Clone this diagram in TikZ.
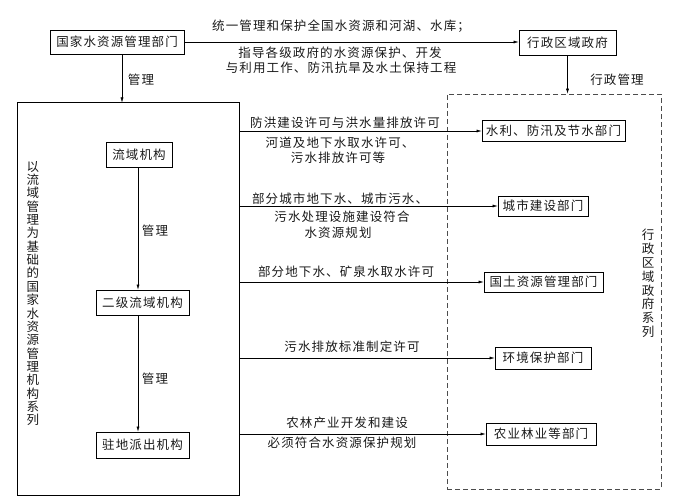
\documentclass[tikz,border=0pt]{standalone}
\usepackage{fontspec}
\setmainfont{Noto Sans CJK SC}
\newfontfamily\cjkspaced[LetterSpace=9]{Noto Sans CJK SC}
\usetikzlibrary{arrows.meta}
\newcommand\dfont{\cjkspaced\fontsize{12.5}{14}\selectfont}
\newcommand\vfontA{\cjkspaced\fontsize{12.5}{13.35}\selectfont}
\newcommand\vfontB{\cjkspaced\fontsize{12.5}{13.8}\selectfont}
\tikzset{
  box/.style={draw, line width=0.8pt, inner sep=0pt, font=\dfont, text=black!90},
  frame/.style={draw, line width=1pt, inner sep=0pt},
  dframe/.style={draw=black!70, dashed, dash pattern=on 5pt off 3pt, line width=0.6pt, inner sep=0pt},
  lab/.style={font=\dfont, inner sep=0pt, text=black!90},
  arr/.style={-{Latex[length=5pt,width=3pt]}, line width=0.5pt},
}
\begin{document}
\begin{tikzpicture}[x=1pt,y=-1pt]
\useasboundingbox (0,0) rectangle (680,497);
% frames
\node[frame, minimum width=222pt, minimum height=392pt] (big) at (128,299) {};
\node[dframe, minimum width=214pt, minimum height=395pt] (dash) at (554,291.5) {};
% top boxes
\node[box, minimum width=134pt, minimum height=24pt] (gj) at (117,42) {国家水资源管理部门};
\node[box, minimum width=97pt, minimum height=25pt] (xz) at (567.5,42.5) {行政区域政府};
% left boxes
\node[box, minimum width=66pt, minimum height=25pt] (l1) at (139,154.5) {流域机构};
\node[box, minimum width=93pt, minimum height=25pt] (l2) at (142.5,302.5) {二级流域机构};
\node[box, minimum width=93pt, minimum height=26pt] (l3) at (142.5,445) {驻地派出机构};
% right boxes
\node[box, minimum width=143pt, minimum height=21pt] (r1) at (553.5,131) {水利、防汛及节水部门};
\node[box, minimum width=90pt, minimum height=20pt] (r2) at (543,206) {城市建设部门};
\node[box, minimum width=119pt, minimum height=20pt] (r3) at (543.5,282) {国土资源管理部门};
\node[box, minimum width=96pt, minimum height=22pt] (r4) at (543,358) {环境保护部门};
\node[box, minimum width=110pt, minimum height=22pt] (r5) at (541,434) {农业林业等部门};
% vertical texts
\node[lab, font=\vfontA, align=center] (vl) at (33,293.5) {以\\流\\域\\管\\理\\为\\基\\础\\的\\国\\家\\水\\资\\源\\管\\理\\机\\构\\系\\列};
\node[lab, font=\vfontB, align=center] (vr) at (648,283.5) {行\\政\\区\\域\\政\\府\\系\\列};
% connectors
\draw[arr] (gj.east) -- (gj.east -| xz.west);
\draw[arr] ([xshift=5pt]gj.south) -- ([xshift=5pt]gj.south |- big.north);
\draw[arr] (xz.south) -- (xz.south |- dash.north);
\draw[arr] ([xshift=-1pt]l1.south) -- ([xshift=-1pt]l1.south |- l2.north);
\draw[arr] ([xshift=-4.5pt]l2.south) -- ([xshift=-4.5pt]l2.south |- l3.north);
\draw[arr] (big.east |- r1.west) -- (r1.west);
\draw[arr] (big.east |- r2.west) -- (r2.west);
\draw[arr] (big.east |- r3.west) -- (r3.west);
\draw[arr] (big.east |- r4.west) -- (r4.west);
\draw[arr] (big.east |- r5.west) -- (r5.west);
% labels
\node[lab] (t0) at (341,26) {统一管理和保护全国水资源和河湖、水库；};
\node[lab] (t0b) at (340,53) {指导各级政府的水资源保护、开发};
\node[lab] (t0c) at (341,68) {与利用工作、防汛抗旱及水土保持工程};
\node[lab] (m0) at (141,80) {管理};
\node[lab] (m1) at (617,80) {行政管理};
\node[lab] (m2) at (155,231) {管理};
\node[lab] (m3) at (155,379) {管理};
\node[lab] (t1) at (345,123) {防洪建设许可与洪水量排放许可};
\node[lab] (t1b) at (340,143) {河道及地下水取水许可、};
\node[lab] (t1c) at (338,158) {污水排放许可等};
\node[lab] (t2) at (340,199) {部分城市地下水、城市污水、};
\node[lab] (t2b) at (342,216.5) {污水处理设施建设符合};
\node[lab] (t2c) at (338,233) {水资源规划};
\node[lab] (t3) at (346,271.5) {部分地下水、矿泉水取水许可};
\node[lab] (t4) at (352,347) {污水排放标准制定许可};
\node[lab] (t5) at (347,422.5) {农林产业开发和建设};
\node[lab] (t5b) at (342,443) {必须符合水资源保护规划};
\end{tikzpicture}
\end{document}
